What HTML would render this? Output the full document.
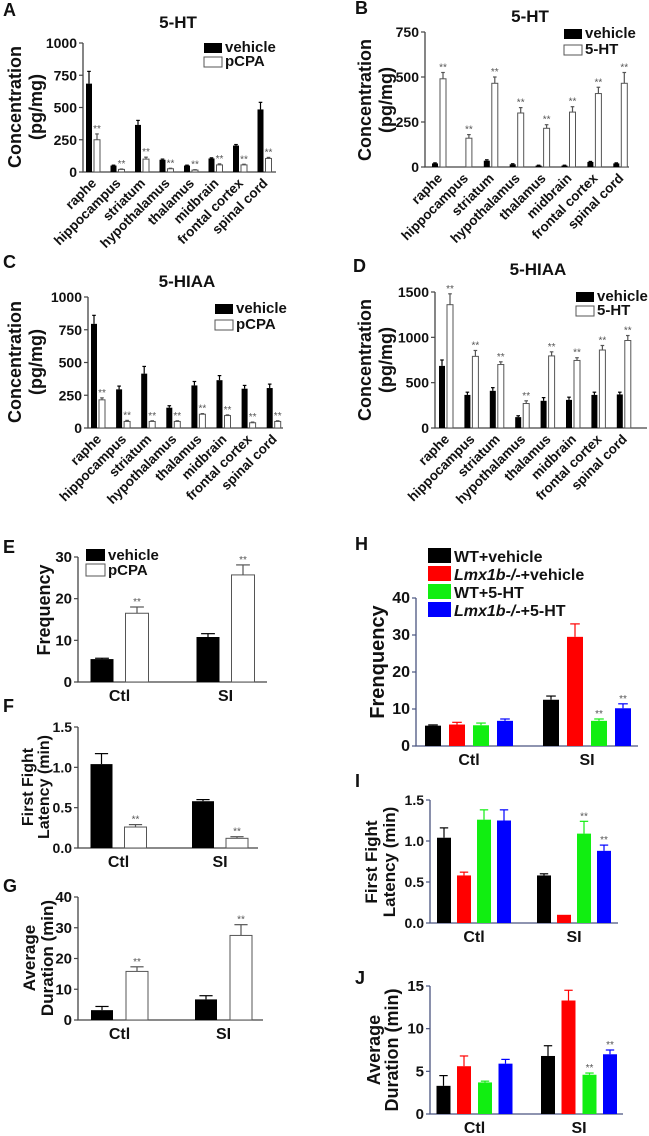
<!DOCTYPE html>
<html><head><meta charset="utf-8"><style>
html,body{margin:0;padding:0;background:#fff;width:649px;height:1136px;overflow:hidden}
svg{display:block;font-family:"Liberation Sans",Arial,sans-serif;font-weight:bold}
</style></head><body>
<svg id="fig" width="649" height="1136" viewBox="0 0 649 1136" xmlns="http://www.w3.org/2000/svg">
<rect width="649" height="1136" fill="#fff"/>
</svg>
<script>
const regions = ["raphe","hippocampus","striatum","hypothalamus","thalamus","midbrain","frontal cortex","spinal cord"];
const conds = ["Ctl","SI"];
// A: 5-HT, vehicle vs pCPA
const aVehicle = [685,50,365,95,50,105,205,485];
const aVehicleErr = [95,3,35,5,3,5,8,55];
const aPcpa = [250,20,100,25,15,55,55,105];
const aPcpaErr = [45,3,15,4,3,8,5,8];
// B: 5-HT, vehicle vs 5-HT
const bVehicle = [20,0,35,15,8,8,28,20];
const bVehicleErr = [3,0,5,3,2,2,3,3];
const b5ht = [490,160,465,300,215,305,408,465];
const b5htErr = [35,20,35,30,20,30,35,60];
// C: 5-HIAA, vehicle vs pCPA
const cVehicle = [795,295,415,155,325,365,300,305];
const cVehicleErr = [65,25,55,15,30,35,25,30];
const cPcpa = [215,50,50,50,105,95,40,50];
const cPcpaErr = [15,8,5,5,5,5,5,5];
// D: 5-HIAA, vehicle vs 5-HT
const dVehicle = [685,365,410,120,300,310,365,370];
const dVehicleErr = [65,30,35,15,35,30,30,25];
const d5ht = [1360,790,700,270,795,745,860,965];
const d5htErr = [120,65,30,30,45,30,50,55];
// E-G: vehicle vs pCPA
const eVehicle = [5.5,10.8], eVehicleErr = [0.2,0.8];
const ePcpa = [16.5,25.7], ePcpaErr = [1.5,2.4];
const fVehicle = [1.04,0.58], fVehicleErr = [0.13,0.02];
const fPcpa = [0.26,0.12], fPcpaErr = [0.03,0.02];
const gVehicle = [3.2,6.7], gVehicleErr = [1.2,1.2];
const gPcpa = [15.8,27.5], gPcpaErr = [1.5,3.5];
// H-J: four groups
const hWT = [5.5,12.5], hWTErr = [0.2,1.0];
const hKO = [5.8,29.5], hKOErr = [0.6,3.5];
const hWT5 = [5.6,6.8], hWT5Err = [0.6,0.5];
const hKO5 = [6.8,10.2], hKO5Err = [0.5,1.2];
const iWT = [1.04,0.58], iWTErr = [0.12,0.02];
const iKO = [0.58,0.10], iKOErr = [0.04,0];
const iWT5 = [1.26,1.09], iWT5Err = [0.12,0.15];
const iKO5 = [1.25,0.88], iKO5Err = [0.13,0.07];
const jWT = [3.3,6.8], jWTErr = [1.2,1.2];
const jKO = [5.6,13.3], jKOErr = [1.2,1.2];
const jWT5 = [3.7,4.6], jWT5Err = [0.15,0.2];
const jKO5 = [5.9,7.0], jKO5Err = [0.5,0.5];
const ticksA = [0,250,500,750,1000];
const ticksB = [0,250,500,750];
const ticksD = [0,500,1000,1500];
const ticksE = [0,10,20,30];
const ticksLat = [0,0.5,1.0,1.5];
const ticks40 = [0,10,20,30,40];
const ticksJ = [0,5,10,15];

const NS = "http://www.w3.org/2000/svg";
const svg = document.getElementById("fig");
function mk(tag, attrs, parent, text){
  const e = document.createElementNS(NS, tag);
  for (const k in attrs) e.setAttribute(k, attrs[k]);
  if (text !== undefined) e.textContent = text;
  (parent || svg).appendChild(e);
  return e;
}
function txt(x,y,s,size,anchor,parent,extra){
  const a = Object.assign({x:x,y:y,"font-size":size,"text-anchor":anchor||"middle",fill:"#111"}, extra||{});
  return mk("text", a, parent, s);
}

function drawPanel(p){
  const g = mk("g", {});
  
  
  const yS = v => p.yBot - v / p.ymax * (p.yBot - p.yTop);
  const xC = i => p.c0 + i * p.step;
  const ax = p.axisColor || "#444";
  const axis = mk("path", {d:`M${p.x0},${p.yTop} V${p.yBot} H${p.x1}`, stroke:ax, "stroke-width":1.3, fill:"none"}, g);
  
  
  p.ticks.forEach(t=>{
    mk("line",{x1:p.x0-4,x2:p.x0,y1:yS(t),y2:yS(t),stroke:ax,"stroke-width":1.2},g);
    const tl = txt(p.x0-6, yS(t)+5, p.fmt ? t.toFixed(1) : String(t), p.tickSize||14, "end", g);
    
    
  });
  p.cats.forEach((c,i)=>{
    p.series.forEach((s,k)=>{
      const v = s.vals[i], e = s.errs[i];
      const cx = xC(i) + p.off[k];
      const top = yS(v);
      const r = mk("rect",{x:cx-p.barW/2,y:top,width:p.barW,height:Math.max(p.yBot-top,0),fill:s.fill,stroke:s.stroke||"none","stroke-width":1},g);
      
      
      const ec = s.err || s.stroke || s.fill;
      if (e > 0){
        const ye = yS(v+e);
        mk("line",{x1:cx,x2:cx,y1:top,y2:ye,stroke:ec,"stroke-width":1.2},g);
        mk("line",{x1:cx-p.barW*0.3,x2:cx+p.barW*0.3,y1:ye,y2:ye,stroke:ec,"stroke-width":1.2},g);
      }
      if (s.star && s.star[i]){
        const st = txt(cx, yS(v+e)-2, "**", 10, "middle", g, {fill:"#555","font-weight":"normal"});
        
        
      }
    });
    let cl;
    if (p.rot){
      const X = xC(i)+4, Y = p.yBot+12;
      cl = txt(X, Y, c, 13.5, "end", g, {transform:`rotate(-45 ${X} ${Y})`});
    } else {
      cl = txt(xC(i), p.yBot+19, c, 16, "middle", g);
    }
    
    
  });
}
const all8 = [1,1,1,1,1,1,1,1];
const W = "#fff", S = "#555";
drawPanel({name:"panel-a-chart",x0:83,x1:276,yTop:43,yBot:172,ymax:1000,ticks:ticksA,cats:regions,c0:93,step:24.5,barW:6,off:[-4,4],rot:true,
  series:[{key:"vehicle",vals:aVehicle,errs:aVehicleErr,fill:"#000"},{key:"pcpa",vals:aPcpa,errs:aPcpaErr,fill:W,stroke:S,star:all8}]});
drawPanel({name:"panel-b-chart",x0:425,x1:629,yTop:32,yBot:167,ymax:750,ticks:ticksB,cats:regions,c0:439,step:25.9,barW:6,off:[-4,4],rot:true,
  series:[{key:"vehicle",vals:bVehicle,errs:bVehicleErr,fill:"#000"},{key:"5ht",vals:b5ht,errs:b5htErr,fill:W,stroke:S,star:all8}]});
drawPanel({name:"panel-c-chart",x0:88,x1:283,yTop:297,yBot:428,ymax:1000,ticks:ticksA,cats:regions,c0:98,step:25.1,barW:6,off:[-4,4],rot:true,
  series:[{key:"vehicle",vals:cVehicle,errs:cVehicleErr,fill:"#000"},{key:"pcpa",vals:cPcpa,errs:cPcpaErr,fill:W,stroke:S,star:all8}]});
drawPanel({name:"panel-d-chart",x0:435,x1:647,yTop:292,yBot:428,ymax:1500,ticks:ticksD,cats:regions,c0:446,step:25.4,barW:6,off:[-4,4],rot:true,
  series:[{key:"vehicle",vals:dVehicle,errs:dVehicleErr,fill:"#000"},{key:"5ht",vals:d5ht,errs:d5htErr,fill:W,stroke:S,star:all8}]});
drawPanel({name:"panel-e-chart",x0:78,x1:267,yTop:557,yBot:682,ymax:30,ticks:ticksE,cats:conds,c0:119.5,step:106,barW:23,off:[-17.5,17.5],tickSize:15,
  series:[{key:"vehicle",vals:eVehicle,errs:eVehicleErr,fill:"#000"},{key:"pcpa",vals:ePcpa,errs:ePcpaErr,fill:W,stroke:S,star:[1,1]}]});
drawPanel({name:"panel-f-chart",x0:78,x1:258,yTop:727,yBot:848,ymax:1.5,fmt:true,ticks:ticksLat,cats:conds,c0:118.5,step:101.5,barW:22,off:[-17,17],tickSize:14,
  series:[{key:"vehicle",vals:fVehicle,errs:fVehicleErr,fill:"#000"},{key:"pcpa",vals:fPcpa,errs:fPcpaErr,fill:W,stroke:S,star:[1,1]}]});
drawPanel({name:"panel-g-chart",x0:78,x1:263,yTop:897,yBot:1020,ymax:40,ticks:ticks40,cats:conds,c0:119.5,step:104,barW:22,off:[-17.5,17.5],tickSize:15,
  series:[{key:"vehicle",vals:gVehicle,errs:gVehicleErr,fill:"#000"},{key:"pcpa",vals:gPcpa,errs:gPcpaErr,fill:W,stroke:S,star:[1,1]}]});
const AXB = "#4a5580";
const R="#ff0000", Gr="#11ee11", B="#0000ff";
drawPanel({name:"panel-h-chart",x0:416,x1:638,yTop:598,yBot:746,ymax:40,ticks:ticks40,cats:conds,c0:469,step:118,barW:16,off:[-36,-12,12,36],axisColor:AXB,tickSize:16,
  series:[{key:"wt-vehicle",vals:hWT,errs:hWTErr,fill:"#000"},{key:"ko-vehicle",vals:hKO,errs:hKOErr,fill:R},{key:"wt-5ht",vals:hWT5,errs:hWT5Err,fill:Gr,star:[0,1]},{key:"ko-5ht",vals:hKO5,errs:hKO5Err,fill:B,star:[0,1]}]});
drawPanel({name:"panel-i-chart",x0:430,x1:618,yTop:800,yBot:923,ymax:1.5,fmt:true,ticks:ticksLat,cats:conds,c0:474,step:100,barW:14,off:[-30,-10,10,30],axisColor:AXB,tickSize:14,
  series:[{key:"wt-vehicle",vals:iWT,errs:iWTErr,fill:"#000"},{key:"ko-vehicle",vals:iKO,errs:iKOErr,fill:R},{key:"wt-5ht",vals:iWT5,errs:iWT5Err,fill:Gr,star:[0,1]},{key:"ko-5ht",vals:iKO5,errs:iKO5Err,fill:B,star:[0,1]}]});
drawPanel({name:"panel-j-chart",x0:430,x1:623,yTop:986,yBot:1114,ymax:15,ticks:ticksJ,cats:conds,c0:474.5,step:104.5,barW:14,off:[-31,-10.5,10.5,31],axisColor:AXB,tickSize:15,
  series:[{key:"wt-vehicle",vals:jWT,errs:jWTErr,fill:"#000"},{key:"ko-vehicle",vals:jKO,errs:jKOErr,fill:R},{key:"wt-5ht",vals:jWT5,errs:jWT5Err,fill:Gr,star:[0,1]},{key:"ko-5ht",vals:jKO5,errs:jKO5Err,fill:B,star:[0,1]}]});

// panel letters
[["A",3,16],["B",355,14],["C",3,268],["D",353,272],["E",3,553],["F",3,712],["G",3,892],["H",355,550],["I",355,787],["J",355,984]].forEach(l=>{
  const t = txt(l[1], l[2], l[0], 18, "start");
  
  
});
// titles
[["5-HT",178,28],["5-HT",530,22],["5-HIAA",187,287],["5-HIAA",538,275]].forEach(l=>{
  const t = txt(l[1], l[2], l[0], 17, "middle");
  
  
});
// y labels
function ylab(x,y,s,size){
  const t = txt(x,y,s,size,"middle",svg,{transform:`rotate(-90 ${x} ${y})`});
  
  
}
ylab(21,107,"Concentration",18); ylab(42,107,"(pg/mg)",18);
ylab(371,100,"Concentration",18); ylab(392,100,"(pg/mg)",18);
ylab(21,362,"Concentration",18); ylab(42,362,"(pg/mg)",18);
ylab(371,360,"Concentration",18); ylab(392,360,"(pg/mg)",18);
ylab(50,610,"Frequency",18);
ylab(33,787,"First Fight",16); ylab(49,787,"Latency (min)",16);
ylab(35,958,"Average",17); ylab(53,958,"Duration (min)",17);
ylab(384,662,"Frenquency",20);
ylab(377,862,"First Fight",17); ylab(395,862,"Latency (min)",17);
ylab(380,1050,"Average",18); ylab(398,1050,"Duration (min)",18);
// legends
function legend(x,y,w,h,gap,items,size){
  items.forEach((it,k)=>{
    const yy = y + k*gap;
    const r = mk("rect",{x:x,y:yy,width:w,height:h,fill:it[1],stroke:it[1]==="#fff"?"#555":"none","stroke-width":1});
    
    
    const t = txt(x+w+3, yy+h-1, "", size, "start");
    
    
    if (it[2]){ mk("tspan",{"font-style":"italic"},t,it[2]); mk("tspan",{},t,it[0]); }
    else t.textContent = it[0];
  });
}
legend(204,43,18,10,14,[["vehicle","#000"],["pCPA","#fff"]],15);
legend(564,29,18,10,16,[["vehicle","#000"],["5-HT","#fff"]],15);
legend(215,304,18,10,16,[["vehicle","#000"],["pCPA","#fff"]],15);
legend(576,292,18,10,14,[["vehicle","#000"],["5-HT","#fff"]],15);
legend(86,549,19,12,15,[["vehicle","#000"],["pCPA","#fff"]],15);
legend(428,548,23,15,18,[["WT+vehicle","#000"],["+vehicle","#ff0000","Lmx1b-/-"],["WT+5-HT","#11ee11"],["+5-HT","#0000ff","Lmx1b-/-"]],16);
</script>
</body></html>
